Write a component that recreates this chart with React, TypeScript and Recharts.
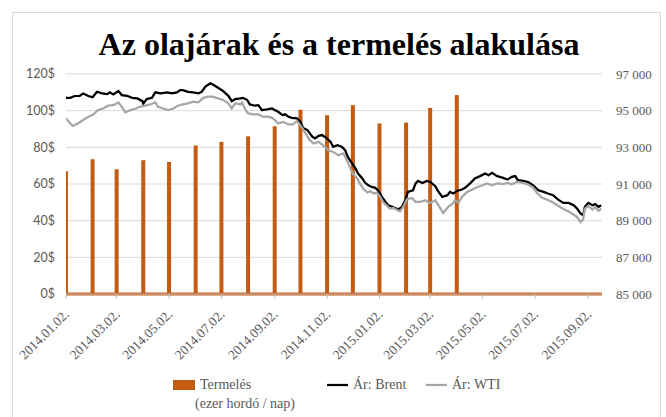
import React from 'react';
import { ComposedChart, Bar, Line, XAxis, YAxis, CartesianGrid, ReferenceLine } from 'recharts';

// ---- data (days counted from 2014-01-02) ----
const brentDays = [0,5,10,16,20,26,31,36,42,48,51,55,61,65,71,77,83,89,90,94,100,104,110,118,123,129,133,136,142,148,154,158,162,168,171,177,183,189,193,197,203,
206,211,214,220,224,228,234,240,243,247,252,255,259,263,269,273,276,281,287,290,294,298,303,308,311,316,321,325,328,333,337,340,345,348,352,356,360,363,368,372,375,380,383,387,391,395,398,404,
407,410,415,420,424,430,433,438,444,447,451,455,461,465,471,476,482,488,492,496,502,508,514,519,523,526,532,538,544,550,556,561,567,573,579,585,591,595,599,602,604,608,613,616,620,623];
const brentPrices = [107.0,107.0,108.0,108.1,109.4,108.0,107.3,110.3,109.4,109.0,110.0,108.9,110.7,108.5,108.1,107.0,106.7,105.2,103.8,106.3,107.0,110.0,109.4,110.0,109.4,110.0,111.2,111.2,110.3,110.0,109.4,110.3,113.0,114.9,114.3,112.5,110.7,108.1,105.2,106.3,106.7,
107.0,105.8,103.4,102.7,103.0,100.3,100.7,101.2,100.3,99.4,97.6,98.0,96.7,96.1,95.8,93.9,90.6,89.4,85.7,84.9,86.3,86.7,85.2,83.0,80.3,81.2,80.3,78.5,74.8,71.2,68.5,65.7,63.0,60.8,59.3,58.4,57.9,56.6,52.9,50.2,48.4,47.5,46.9,46.2,47.5,51.1,55.7,56.6,
60.3,61.7,60.6,61.7,61.1,58.8,56.2,52.9,53.9,55.7,54.8,56.2,57.0,58.1,60.6,63.0,64.3,65.7,64.8,66.1,64.3,63.5,62.4,63.9,64.3,62.1,61.7,61.1,59.3,56.6,55.7,54.8,53.9,51.5,49.7,49.7,48.4,46.6,43.9,42.9,47.5,49.7,48.4,49.0,47.5,48.4];

const wtiDays = [0,5,8,14,20,26,31,37,43,49,55,61,65,69,75,80,86,92,98,104,107,113,119,125,130,136,142,148,154,160,165,171,177,183,189,193,197,203,
205,208,212,218,224,229,235,240,243,247,253,259,264,269,275,278,284,288,294,299,305,311,317,323,327,331,334,339,342,346,351,354,358,362,366,369,374,377,381,386,389,393,397,403,
407,412,418,424,430,436,439,445,450,453,457,461,467,473,479,485,490,496,502,508,514,519,525,532,537,543,549,554,560,566,572,578,584,589,595,599,602,604,608,613,616,620,623];
const wtiPrices = [95.8,93.0,91.7,93.0,94.9,96.7,97.6,100.3,101.2,102.7,103.0,104.5,102.1,99.1,100.3,100.9,102.1,102.7,103.4,104.5,102.1,101.2,100.3,101.2,102.7,103.4,104.0,104.9,104.5,107.0,107.6,107.6,106.7,105.8,104.0,101.2,104.0,103.4,
104.5,101.2,98.5,98.0,98.0,96.7,96.7,96.1,94.9,93.0,93.9,92.5,92.5,94.3,90.6,88.1,83.9,82.1,83.0,81.2,78.5,77.5,75.7,76.7,73.0,68.5,65.7,63.0,60.3,57.5,55.3,56.1,54.8,55.3,52.9,50.2,48.0,46.6,46.9,45.7,45.1,48.0,51.7,52.4,
50.2,50.2,51.1,49.7,51.1,46.6,44.2,47.5,49.3,51.1,49.7,52.9,55.7,57.0,58.4,59.3,60.3,59.3,60.3,59.9,60.6,59.9,61.1,60.6,59.9,58.4,54.8,52.6,51.5,50.2,48.4,46.6,45.3,43.9,42.0,39.3,40.6,46.6,47.9,46.1,47.5,45.3,46.6];

const prodDates = ['2014-01-02','2014-02-02','2014-03-02','2014-04-02','2014-05-02','2014-06-02','2014-07-02','2014-08-02','2014-09-02','2014-10-02','2014-11-02','2014-12-02','2015-01-02','2015-02-02','2015-03-02','2015-04-02'];
const prodValues = [91700,92350,91800,92300,92200,93100,93300,93600,94150,95050,94750,95300,94300,94350,95150,95850];

const tickDates = ['2014-01-02','2014-03-02','2014-05-02','2014-07-02','2014-09-02','2014-11-02','2015-01-02','2015-03-02','2015-05-02','2015-07-02','2015-09-02'];
const leftTicks = [0,20,40,60,80,100,120];
const rightTicks = [85000,87000,89000,91000,93000,95000,97000];

// ---- build table ----
const BASE = Date.UTC(2014, 0, 2);
const dayOf = (s: string) => {
  const [y, m, d] = s.split('-').map(Number);
  return Math.round((Date.UTC(y, m - 1, d) - BASE) / 86400000);
};
type Row = { t: number; brent?: number; wti?: number; prod?: number };
const rowMap = new Map<number, Row>();
const getRow = (t: number) => {
  let r = rowMap.get(t);
  if (!r) { r = { t }; rowMap.set(t, r); }
  return r;
};
brentDays.forEach((d, i) => { getRow(d).brent = brentPrices[i]; });
wtiDays.forEach((d, i) => { getRow(d).wti = wtiPrices[i]; });
prodDates.forEach((s, i) => { getRow(dayOf(s)).prod = prodValues[i]; });
const chartData = Array.from(rowMap.values()).sort((a, b) => a.t - b.t);
const xTicks = tickDates.map(dayOf);
const labelOf = new Map<number, string>(tickDates.map((s) => [dayOf(s), s.replace(/-/g, '.') + '.']));

const ORANGE = '#C55A11';
const GRAY_TXT = '#595959';
const SERIF = '"Liberation Serif", "Times New Roman", serif';
const X_DOMAIN: [number, number] = [0, 624];

const XTick = (p: any) => {
  const { x, y, payload } = p;
  return (
    <g transform={`translate(${x},${y})`}>
      <text transform="translate(4,14) rotate(-45)" textAnchor="end" fontFamily={SERIF} fontSize={13.5} fill={GRAY_TXT}>
        {labelOf.get(payload.value) ?? ''}
      </text>
    </g>
  );
};

const BarShape = (p: any) => {
  const { x, y, width, height } = p;
  if (height == null || !isFinite(height) || height <= 0 || !isFinite(x)) return null;
  const cx = x + width / 2;
  return <rect x={cx - 2} y={y} width={4} height={height} fill={ORANGE} />;
};

export default function App() {
  return (
    <div style={{ position: 'absolute', left: 0, top: 0, width: 666, height: 417, background: '#fff', overflow: 'hidden' }}>
      <div style={{ position: 'absolute', left: 12, top: 12, width: 647, height: 420, border: '1px solid #d9d9d9' }} />
      {/* base layer: grid, axes, columns */}
      <div style={{ position: 'absolute', left: 0, top: 0 }}>
        <ComposedChart width={666} height={417} data={chartData} margin={{ top: 74, right: 14, left: 16, bottom: 63 }}>
          <CartesianGrid yAxisId="left" vertical={false} horizontal stroke="#d9d9d9" strokeWidth={1} />
          <XAxis
            dataKey="t"
            type="number"
            domain={X_DOMAIN}
            ticks={xTicks}
            allowDataOverflow
            height={60}
            tickSize={5}
            tickMargin={2}
            tickLine={{ stroke: '#bfbfbf' }}
            axisLine={{ stroke: '#bfbfbf' }}
            tick={<XTick />}
            interval={0}
          />
          <YAxis
            yAxisId="left"
            orientation="left"
            width={50}
            domain={[0, 120]}
            ticks={leftTicks}
            tickFormatter={(v: number) => `${v}$`}
            axisLine={false}
            tickLine={false}
            tickMargin={5}
            tick={{ fill: GRAY_TXT, fontSize: 12.5, fontFamily: 'Lato, "Liberation Sans", sans-serif' }}
          />
          <YAxis
            yAxisId="right"
            orientation="right"
            width={50}
            domain={[85000, 97000]}
            ticks={rightTicks}
            tickFormatter={(v: number) => `${Math.round(v / 1000)} 000`}
            axisLine={false}
            tickLine={false}
            tickMargin={8}
            tick={{ fill: GRAY_TXT, fontSize: 13, fontFamily: SERIF, textAnchor: 'start' }}
          />
          {/* invisible series keeps the price axis active in this layer */}
          <Line yAxisId="left" type="linear" dataKey="brent" stroke="none" dot={false} activeDot={false} connectNulls isAnimationActive={false} />
          <Bar yAxisId="right" dataKey="prod" fill={ORANGE} barSize={4} shape={<BarShape />} isAnimationActive={false} />
          <ReferenceLine yAxisId="left" y={0} stroke={ORANGE} strokeWidth={3} />
        </ComposedChart>
      </div>
      {/* top layer: price lines drawn over the columns */}
      <div style={{ position: 'absolute', left: 0, top: 0 }}>
        <ComposedChart width={666} height={417} data={chartData} margin={{ top: 74, right: 64, left: 66, bottom: 123 }}>
          <XAxis dataKey="t" type="number" domain={X_DOMAIN} allowDataOverflow hide />
          <YAxis yAxisId="left" domain={[0, 120]} hide />
          <Line yAxisId="left" type="linear" dataKey="brent" stroke="#000000" strokeWidth={2.25} dot={false} connectNulls isAnimationActive={false} />
          <Line yAxisId="left" type="linear" dataKey="wti" stroke="#A6A6A6" strokeWidth={2.25} dot={false} connectNulls isAnimationActive={false} />
        </ComposedChart>
      </div>
      <svg width={666} height={417} style={{ position: 'absolute', left: 0, top: 0, pointerEvents: 'none' }}>
        <text x={339} y={55} textAnchor="middle" fontFamily={SERIF} fontWeight="bold" fontSize={32} fill="#000">
          Az olajárak és a termelés alakulása
        </text>
        <rect x={173} y={380} width={22} height={10} fill={ORANGE} />
        <text x={200} y={389} fontFamily={SERIF} fontSize={14} fill={GRAY_TXT}>Termelés</text>
        <text x={195} y={408} fontFamily={SERIF} fontSize={14} fill={GRAY_TXT}>(ezer hordó / nap)</text>
        <line x1={327} x2={348} y1={385} y2={385} stroke="#000" strokeWidth={2.25} />
        <text x={353} y={389} fontFamily={SERIF} fontSize={14} fill={GRAY_TXT}>Ár: Brent</text>
        <line x1={426} x2={447} y1={385} y2={385} stroke="#A6A6A6" strokeWidth={2.25} />
        <text x={452} y={389} fontFamily={SERIF} fontSize={14} fill={GRAY_TXT}>Ár: WTI</text>
      </svg>
    </div>
  );
}
